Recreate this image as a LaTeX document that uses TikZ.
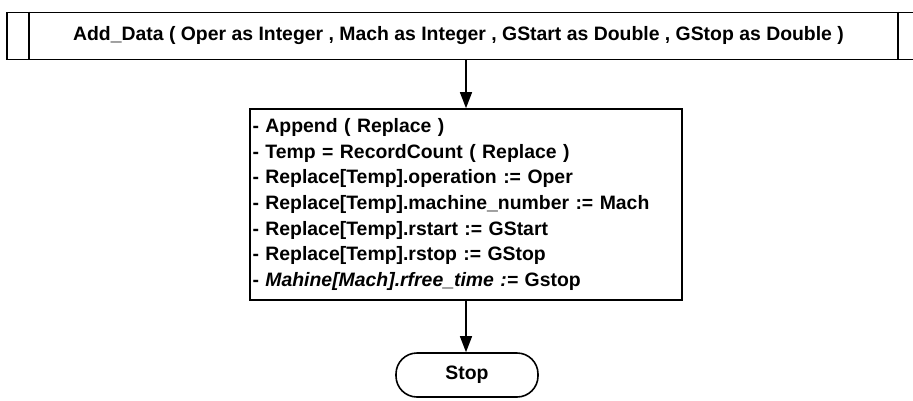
\documentclass[tikz,border=0pt]{standalone}
\usepackage{fontspec}
\setmainfont{Liberation Sans}
\usetikzlibrary{arrows.meta}
\begin{document}
\begin{tikzpicture}[x=1pt,y=-1pt,
  every node/.style={font=\bfseries\fontsize{19.4}{25.7}\selectfont},
  frame/.style={draw,line width=1.6pt,inner sep=0pt},
  flow/.style={line width=1.3pt,-{Triangle[length=16pt,width=12pt]}}]
  \useasboundingbox (0,0) rectangle (913,400);
  % subroutine header (predefined process)
  \node[frame,minimum width=913pt,minimum height=47pt] (sub) at (463.5,36) {};
  \draw[line width=1.6pt] ([xshift=23pt]sub.north west) -- ([xshift=23pt]sub.south west);
  \draw[line width=1.6pt] ([xshift=-23pt]sub.north east) -- ([xshift=-23pt]sub.south east);
  \node (subtxt) at (458.5,36) {Add\_Data ( Oper as Integer , Mach as Integer , GStart as Double , GStop as Double )};
  % process block
  \node[frame,minimum width=432pt,minimum height=191pt,text width=427pt,align=left] (main) at (466,204.5)
  {- Append ( Replace )\\
   - Temp = RecordCount ( Replace )\\
   - Replace[Temp].operation := Oper\\
   - Replace[Temp].machine\_number := Mach\\
   - Replace[Temp].rstart := GStart\\
   - Replace[Temp].rstop := GStop\\
   - \textit{Mahine[Mach].rfree\_time :=} Gstop};
  % terminator
  \node[frame,rounded corners=21pt,minimum width=142pt,minimum height=44pt] (stop) at (467,375) {Stop};
  % connectors
  \draw[flow] (main.north |- sub.south) -- (main.north);
  \draw[flow] (main.south) -- (main.south |- stop.north);
\end{tikzpicture}
\end{document}
